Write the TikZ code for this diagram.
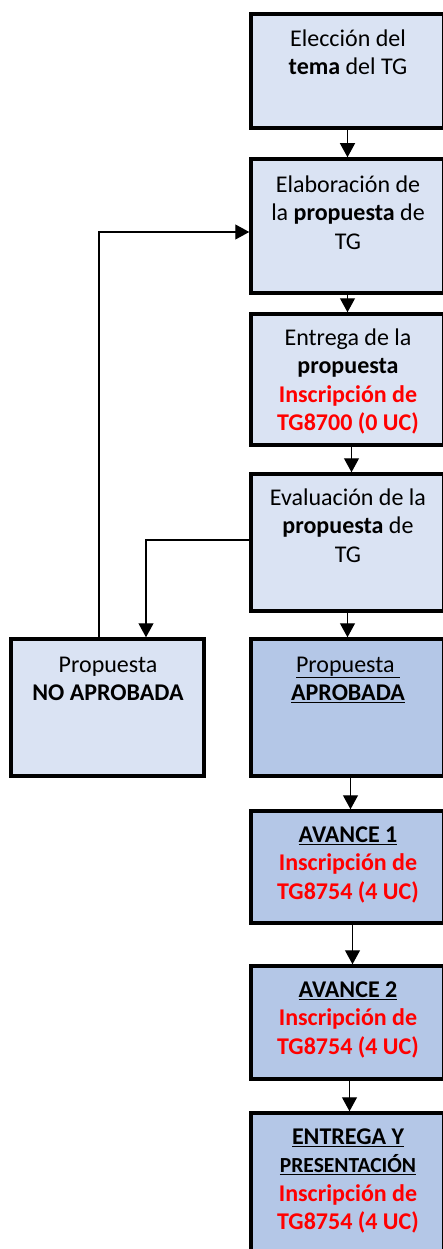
\documentclass[tikz,border=0pt]{standalone}
\usepackage{fontspec}
\setmainfont{Carlito}
\usetikzlibrary{arrows.meta}
\definecolor{lightbox}{HTML}{DAE3F3}
\definecolor{darkbox}{HTML}{B4C7E7}
\definecolor{redtxt}{HTML}{FF0000}
\newcommand{\rd}[1]{\textcolor{redtxt}{\textbf{#1}}}
\begin{document}
\begin{tikzpicture}[x=1pt,y=-1pt,
  boxbase/.style={draw=black, line width=3.5pt, minimum width=193pt, inner sep=0pt},
  lightb/.style={boxbase, fill=lightbox},
  darkb/.style={boxbase, fill=darkbox},
  txt/.style={align=center, anchor=north, inner sep=0pt, font=\fontsize{24}{28.5}\selectfont},
  arr/.style={draw=black, line width=1.2pt, -{Triangle[width=15pt,length=14pt]}}
]
\useasboundingbox (0,0) rectangle (443,1249);
% boxes
\node[lightb, minimum height=114pt] (b1) at (347.5,71) {};
\node[lightb, minimum height=134pt] (b2) at (347.5,226) {};
\node[lightb, minimum height=131pt] (b3) at (347.5,379.5) {};
\node[lightb, minimum height=137pt] (b4) at (347.5,542.5) {};
\node[darkb, minimum height=137pt] (b5) at (347.5,707.5) {};
\node[lightb, minimum height=137pt] (L) at (107.5,707.5) {};
\node[darkb, minimum height=112pt] (b6) at (347.5,867) {};
\node[darkb, minimum height=113pt] (b7) at (347.5,1022.5) {};
\node[darkb, minimum height=150pt] (b8) at (347.5,1188) {};
% texts
\node[txt] (t1) at (348,26) {\rule{0pt}{20pt}Elección del\\ \textbf{tema} del TG};
\node[txt] (t2) at (348,172) {\rule{0pt}{20pt}Elaboración de\\ la \textbf{propuesta} de\\ TG};
\node[txt] (t3) at (348,325) {\rule{0pt}{20pt}Entrega de la\\ \textbf{propuesta}\\ \rd{Inscripción de}\\ \rd{TG8700 (0 UC)}};
\node[txt] (t4) at (348,485) {\rule{0pt}{20pt}Evaluación de la\\ \textbf{propuesta} de\\ TG};
\node[txt] (t5) at (348,652) {\rule{0pt}{20pt}\underline{Propuesta~}\\ \textbf{\underline{APROBADA}}};
\node[txt] (tL) at (108,652) {\rule{0pt}{20pt}Propuesta\\ \textbf{NO APROBADA}};
\node[txt] (t6) at (348,822) {\rule{0pt}{20pt}\textbf{\underline{AVANCE 1}}\\ \rd{Inscripción de}\\ \rd{TG8754 (4 UC)}};
\node[txt] (t7) at (348,977) {\rule{0pt}{20pt}\textbf{\underline{AVANCE 2}}\\ \rd{Inscripción de}\\ \rd{TG8754 (4 UC)}};
\node[txt] (t8) at (348,1124) {\rule{0pt}{20pt}\textbf{\underline{ENTREGA Y}}\\ {\fontsize{21.5}{28.5}\selectfont\textbf{\underline{PRESENTACIÓN}}}\\ \rd{Inscripción de}\\ \rd{TG8754 (4 UC)}};
% connectors
\draw[arr] (b1.south) -- (b2.north);
\draw[arr] (b2.south) -- (b3.north);
\draw[arr] ([xshift=4pt]b3.south) -- ([xshift=4pt]b4.north);
\draw[arr] (b4.south) -- (b5.north);
\draw[arr] ([xshift=3pt]b5.south) -- ([xshift=3pt]b6.north);
\draw[arr] ([xshift=5pt]b6.south) -- ([xshift=5pt]b7.north);
\draw[arr] ([xshift=2pt]b7.south) -- ([xshift=2pt]b8.north);
\draw[arr] ([xshift=-8.5pt]L.north) |- ([yshift=-6pt]b2.west);
\draw[arr] ([yshift=2.5pt]b4.west) -| ([xshift=38.5pt]L.north);
\end{tikzpicture}
\end{document}
